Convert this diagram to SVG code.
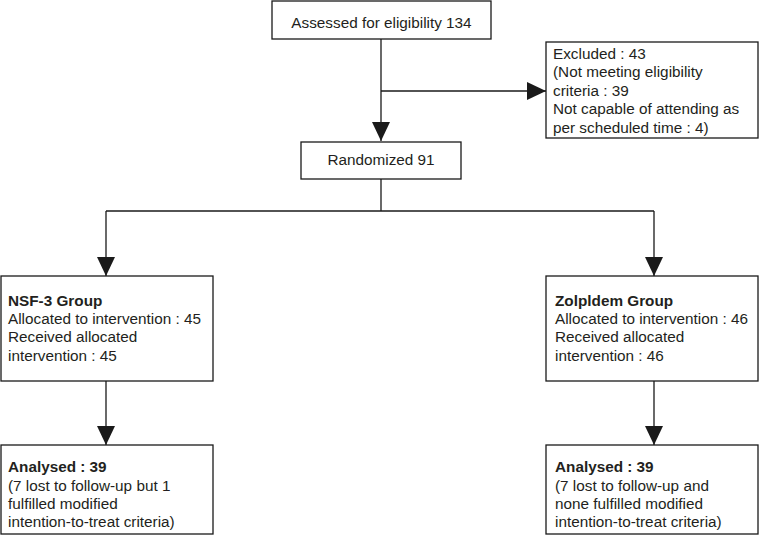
<svg xmlns="http://www.w3.org/2000/svg" width="759" height="544" viewBox="0 0 759 544">
<defs>
<marker id="arr" markerUnits="userSpaceOnUse" markerWidth="19" markerHeight="18" refX="19" refY="9" orient="auto">
<path d="M0,0 L19,9 L0,18 Z" fill="#1a1a1a"/>
</marker>
<style>
.box{fill:#fff;stroke:#1a1a1a;stroke-width:1.3}
.ln{fill:none;stroke:#1a1a1a;stroke-width:1.3}
text{font-family:"Liberation Sans",Arial,Helvetica,sans-serif;font-size:15.3px;fill:#231f20}
.b{font-weight:bold}
.c{text-anchor:middle}
</style>
</defs>
<rect width="759" height="544" fill="#fff"/>
<g id="connectors">
<path class="ln" d="M381,39 V141" marker-end="url(#arr)"/>
<path class="ln" d="M381,91 H546" marker-end="url(#arr)"/>
<path class="ln" d="M381,179 V211"/>
<path class="ln" d="M106,211 H654"/>
<path class="ln" d="M106,211 V276" marker-end="url(#arr)"/>
<path class="ln" d="M654,211 V276" marker-end="url(#arr)"/>
<path class="ln" d="M106,381 V445" marker-end="url(#arr)"/>
<path class="ln" d="M654,381 V445" marker-end="url(#arr)"/>
</g>
<g id="assessed">
<rect class="box" x="272" y="1" width="219" height="38"/>
<text class="c" x="381.5" y="28">Assessed for eligibility 134</text>
</g>
<g id="excluded">
<rect class="box" x="546" y="42" width="212" height="96"/>
<text x="553" y="58.5">Excluded : 43</text>
<text x="553" y="77">(Not meeting eligibility</text>
<text x="553" y="95.5">criteria : 39</text>
<text x="553" y="114">Not capable of attending as</text>
<text x="553" y="132.5">per scheduled time : 4)</text>
</g>
<g id="randomized">
<rect class="box" x="301" y="142" width="160" height="37"/>
<text class="c" x="381" y="165">Randomized 91</text>
</g>
<g id="nsf3">
<rect class="box" x="1" y="276" width="212" height="105"/>
<text class="b" x="8" y="305.5">NSF-3 Group</text>
<text x="8" y="324">Allocated to intervention : 45</text>
<text x="8" y="342.3">Received allocated</text>
<text x="8" y="360.6">intervention : 45</text>
</g>
<g id="zolpidem">
<rect class="box" x="546" y="276" width="212" height="105"/>
<text class="b" x="555" y="305.5">Zolpldem Group</text>
<text x="555" y="324">Allocated to intervention : 46</text>
<text x="555" y="342.3">Received allocated</text>
<text x="555" y="360.6">intervention : 46</text>
</g>
<g id="analysed-nsf3">
<rect class="box" x="1" y="445" width="212" height="89"/>
<text class="b" x="8" y="472">Analysed : 39</text>
<text x="8" y="490.5">(7 lost to follow-up but 1</text>
<text x="8" y="508.5">fulfilled modified</text>
<text x="8" y="526.7">intention-to-treat criteria)</text>
</g>
<g id="analysed-zolpidem">
<rect class="box" x="546" y="445" width="212" height="89"/>
<text class="b" x="555" y="472">Analysed : 39</text>
<text x="555" y="490.5">(7 lost to follow-up and</text>
<text x="555" y="508.5">none fulfilled modified</text>
<text x="555" y="526.7">intention-to-treat criteria)</text>
</g>
</svg>
